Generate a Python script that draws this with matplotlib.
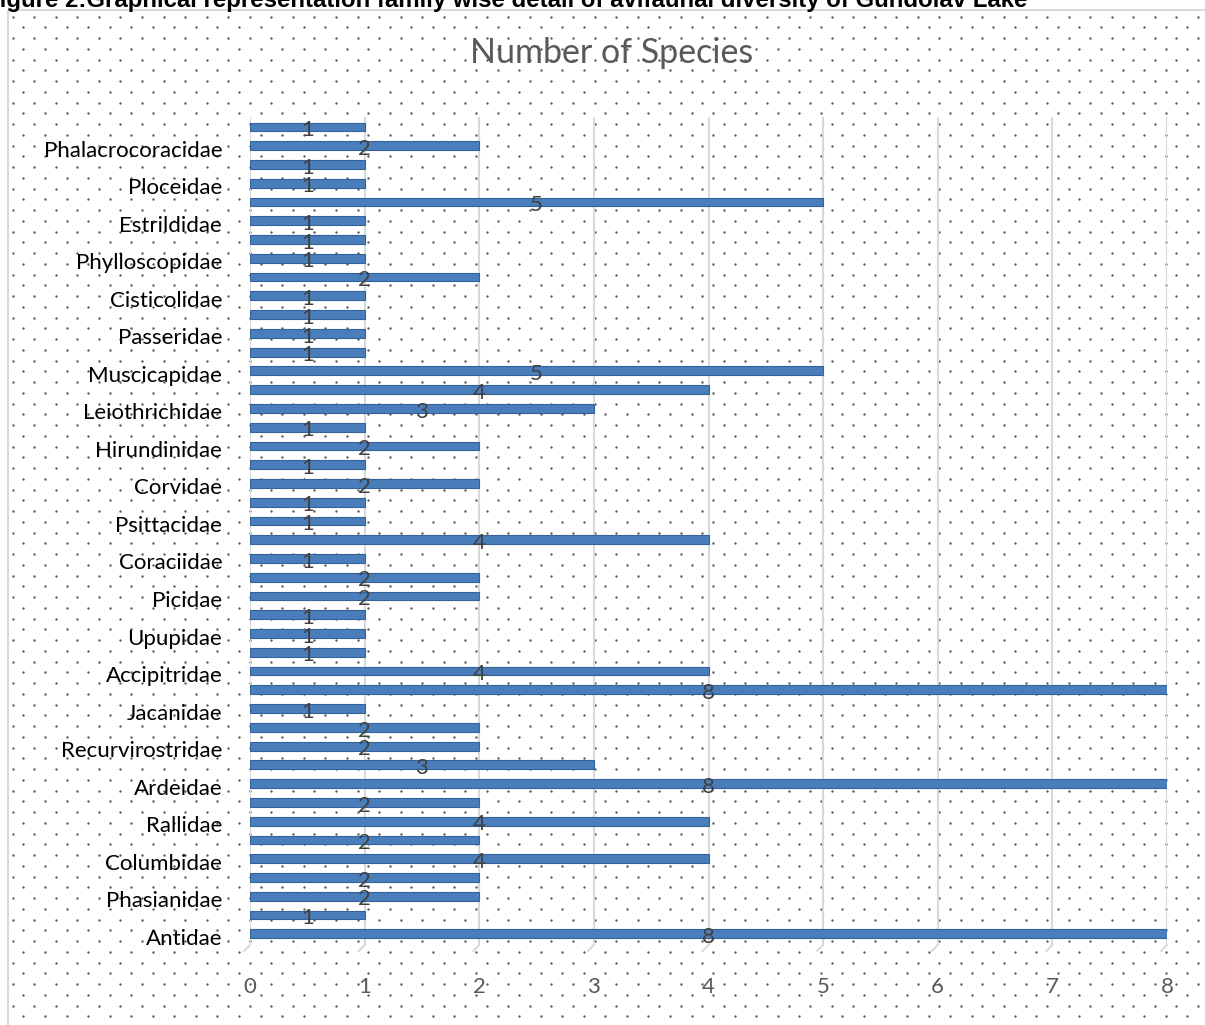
import numpy as np
import matplotlib
matplotlib.use("Agg")
import matplotlib.pyplot as plt
import matplotlib.transforms as mtransforms
from matplotlib.patches import Rectangle

# families from bottom to top of the chart; Excel only labels every second one
families = [
    "Antidae", "Podicipedidae", "Phasianidae", "Cuculidae", "Columbidae",
    "Gruidae", "Rallidae", "Ciconiidae", "Ardeidae", "Threskiornithidae",
    "Recurvirostridae", "Charadriidae", "Jacanidae", "Scolopacidae",
    "Accipitridae", "Strigidae", "Upupidae", "Meropidae", "Picidae",
    "Alcedinidae", "Coraciidae", "Laniidae", "Psittacidae", "Dicruridae",
    "Corvidae", "Alaudidae", "Hirundinidae", "Pycnonotidae", "Leiothrichidae",
    "Sturnidae", "Muscicapidae", "Nectariniidae", "Passeridae", "Motacillidae",
    "Cisticolidae", "Acrocephalidae", "Phylloscopidae", "Sylviidae",
    "Estrildidae", "Monarchidae", "Ploceidae", "Anhingidae",
    "Phalacrocoracidae", "Laridae",
]
species = [
    8, 1, 2, 2, 4, 2, 4, 2, 8, 3,
    2, 2, 1, 8, 4, 1, 1, 1, 2, 2,
    1, 4, 1, 1, 2, 1, 2, 1, 3, 4,
    5, 1, 1, 1, 1, 2, 1, 1, 1, 5,
    1, 1, 2, 1,
]
x_ticks = list(range(0, 9))

title = "Number of Species"
caption = ("Figure 2:Graphical representation family wise detail of "
           "avifaunal diversity of Gundolav Lake")

W, H = 1205, 1025
fig = plt.figure(figsize=(W / 100, H / 100), dpi=100)

# background: chart frame with the dotted fill pattern
bg = fig.add_axes([0, 0, 1, 1], zorder=0)
bg.set_xlim(0, W)
bg.set_ylim(H, 0)
bg.axis("off")
rows = np.arange(16.7, H, 10.75)
xs, ys = [], []
for j, yy in enumerate(rows):
    start = 12.7 + (10.78 if j % 2 else 0)
    for xx in np.arange(start, W, 21.55):
        xs.append(xx)
        ys.append(yy)
bg.scatter(xs, ys, s=3.0, color="#5a5a5a", linewidths=0)
bg.add_patch(Rectangle((8, 10), W, H, fill=False, edgecolor="#d9d9d9", lw=1.5))
bg.add_patch(Rectangle((0, 0), W, 9.2, color="white", lw=0))

# the figure caption is cut off at the top (and left) in the source image
fig.text(-15 / W, 1 - 7 / H, caption, fontsize=17.3, fontweight="bold",
         family="Liberation Sans", ha="left", va="baseline", color="black")
fig.text(612 / W, 1 - 53 / H, title, fontsize=24.5, family="Lato",
         color="#595959", ha="center", va="center")

ax = fig.add_axes([250 / W, 1 - 945 / H, (1167 - 250) / W, (945 - 117) / H],
                  zorder=1)
ax.patch.set_alpha(0)
n = len(families)
pos = np.arange(n)
ax.barh(pos, species, height=0.47, color="#4a7ebb", edgecolor="#35629a",
        linewidth=0.8, zorder=3)

for i, v in zip(pos, species):
    ax.text(v / 2, i - 0.17, str(v), ha="center", va="center", fontsize=16,
            family="Lato", color="#404040", zorder=4)

ax.set_xlim(0, 8)
ax.set_ylim(-0.6, n - 1 + 0.53)
ax.set_xticks(x_ticks)
ax.set_yticks(pos[::2])
ax.set_yticklabels(families[::2])
ax.tick_params(axis="y", length=0, pad=20, labelsize=16, labelcolor="black")
ax.tick_params(axis="x", length=0, pad=23, labelsize=16, labelcolor="#595959")
down = mtransforms.ScaledTranslation(0, -3 / 100, fig.dpi_scale_trans)
for lab in ax.get_yticklabels():
    lab.set_family("Lato")
    lab.set_transform(lab.get_transform() + down)
for lab in ax.get_xticklabels():
    lab.set_family("Lato")
for s in ax.spines.values():
    s.set_visible(False)
ax.grid(axis="x", color="#d9d9d9", lw=1.5, zorder=1)

# little 3D floor stubs at the foot of each gridline
for t in x_ticks:
    ax.annotate("", xy=(t, -0.6), xytext=(-6, -6), textcoords="offset pixels",
                arrowprops=dict(arrowstyle="-", color="#d9d9d9", lw=1.5,
                                shrinkA=0, shrinkB=0), annotation_clip=False)

fig.savefig("out.png", dpi=100)
